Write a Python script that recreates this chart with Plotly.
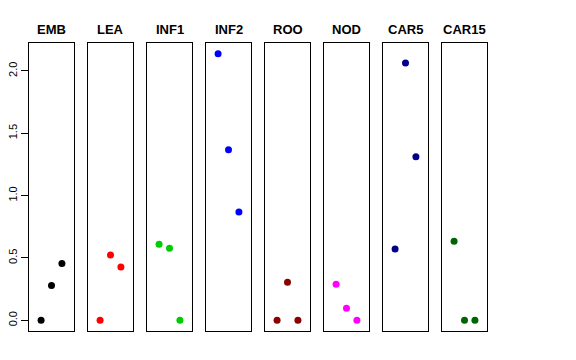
import plotly.graph_objects as go

panels = ["EMB", "LEA", "INF1", "INF2", "ROO", "NOD", "CAR5", "CAR15"]
colors = ["#000000", "#FF0000", "#00CD00", "#0000FF", "#8B0000", "#FF00FF", "#00008B", "#006400"]
positions = [1, 2, 3]
values = {
    "EMB":   [0.0, 0.28, 0.455],
    "LEA":   [0.0, 0.524, 0.427],
    "INF1":  [0.609, 0.577, 0.0],
    "INF2":  [2.138, 1.368, 0.868],
    "ROO":   [0.0, 0.305, 0.0],
    "NOD":   [0.289, 0.096, 0.0],
    "CAR5":  [0.572, 2.063, 1.312],
    "CAR15": [0.634, 0.0, 0.0],
}
ytick_vals = [0.0, 0.5, 1.0, 1.5, 2.0]
ytick_text = ["0.0", "0.5", "1.0", "1.5", "2.0"]

W, H = 576, 360
left0, pw, gap = 29, 45, 14
top, bottom = 43, 331
ydom = [1 - bottom / H, 1 - top / H]

fig = go.Figure()
layout = dict(
    width=W, height=H, margin=dict(l=0, r=0, t=0, b=0, autoexpand=False),
    paper_bgcolor="white", plot_bgcolor="white", showlegend=False,
    font=dict(family="Liberation Sans, Arial, sans-serif", color="black"),
)
annotations = []
for i, name in enumerate(panels):
    n = i + 1
    xa = "x" if n == 1 else f"x{n}"
    ya = "y" if n == 1 else f"y{n}"
    x0 = left0 + i * (pw + gap)
    fig.add_trace(go.Scatter(
        x=positions, y=values[name], mode="markers",
        marker=dict(color=colors[i], size=7),
        xaxis=xa, yaxis=ya, cliponaxis=False,
    ))
    layout["xaxis" if n == 1 else f"xaxis{n}"] = dict(
        domain=[x0 / W, (x0 + pw) / W], range=[-0.16, 4.16],
        showgrid=False, zeroline=False, showticklabels=False, ticks="",
        showline=True, mirror=True, linecolor="black", linewidth=1,
        anchor=ya, fixedrange=True, automargin=False,
    )
    yax = dict(
        domain=ydom, range=[-0.0856, 2.2236],
        showgrid=False, zeroline=False,
        showline=True, mirror=True, linecolor="black", linewidth=1,
        anchor=xa, fixedrange=True, automargin=False,
    )
    if n == 1:
        yax.update(tickmode="array", tickvals=ytick_vals, ticktext=ytick_text,
                   ticks="outside", ticklen=7, tickcolor="black", tickwidth=1,
                   tickangle=-90, tickfont=dict(size=11, color="black"))
    else:
        yax.update(showticklabels=False, ticks="")
    layout["yaxis" if n == 1 else f"yaxis{n}"] = yax
    annotations.append(dict(
        text=f"<b>{name}</b>", x=(x0 + pw / 2) / W, y=1 - 29 / H,
        xref="paper", yref="paper", showarrow=False,
        font=dict(size=13, color="black"), xanchor="center", yanchor="middle",
    ))
layout["annotations"] = annotations
fig.update_layout(**layout)
fig.write_html("out.html", config={"displayModeBar": False},
               post_script="document.body.style.margin='0';")
